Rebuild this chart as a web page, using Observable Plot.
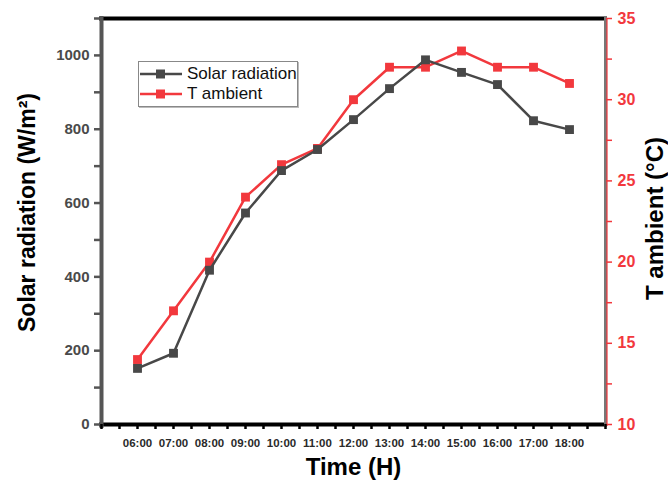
<!DOCTYPE html>
<html>
<head>
<meta charset="utf-8">
<script src="https://cdn.jsdelivr.net/npm/d3@7"></script>
<script src="https://cdn.jsdelivr.net/npm/@observablehq/plot@0.6"></script>
<style>
  html, body { margin: 0; padding: 0; background: white; }
  #wrap { position: relative; width: 668px; height: 489px; font-family: "Liberation Sans", Arial, sans-serif; }
  #legend { position: absolute; left: 138px; top: 61px; width: 158px; height: 44px; border: 1px solid #888; box-shadow: 1px 1px 0 #bbb; background: white; }
  #legend .row { position: absolute; left: 0; height: 20px; display: flex; align-items: center; font-size: 17px; color: #111; }
  #legend svg { margin-right: 4px; }
</style>
</head>
<body>
<div id="wrap"></div>
<script>
// ---- data ----
const hours = ["06:00","07:00","08:00","09:00","10:00","11:00","12:00","13:00","14:00","15:00","16:00","17:00","18:00"];
const hourValues = [6,7,8,9,10,11,12,13,14,15,16,17,18];
const solar = [152,193,418,573,688,745,826,910,988,954,921,823,799];
const tAmbient = [14,17,20,24,26,27,30,32,32,33,32,32,31];
const solarTicks = [0,200,400,600,800,1000];
const tempTicks = [10,15,20,25,30,35];
const seriesNames = ["Solar radiation","T ambient"];

const grayC = "#484848";
const redC = "#f2383d";

// map temperature (10..35) onto the solar axis (0..1100)
const toY = t => (t - 10) * 44;
const fromY = v => v / 44 + 10;

const data = hourValues.map((h, i) => ({h, solar: solar[i], t: tAmbient[i]}));

const font = "Liberation Sans, Arial, sans-serif";

const chart = Plot.plot({
  width: 668,
  height: 489,
  marginLeft: 101,
  marginRight: 63,
  marginTop: 18,
  marginBottom: 65,
  style: {fontFamily: font, background: "white", overflow: "visible"},
  x: {domain: [5, 19]},
  y: {domain: [0, 1100]},
  marks: [
    // series
    Plot.line(data, {x: "h", y: d => toY(d.t), stroke: redC, strokeWidth: 2.5}),
    Plot.dot(data, {x: "h", y: d => toY(d.t), symbol: "square", r: 5, fill: redC, stroke: "none"}),
    Plot.line(data, {x: "h", y: "solar", stroke: grayC, strokeWidth: 2.5}),
    Plot.dot(data, {x: "h", y: "solar", symbol: "square", r: 5, fill: grayC, stroke: "none"}),
    // frame
    Plot.ruleY([1100], {stroke: "#000", strokeWidth: 4, insetLeft: -2, insetRight: -2}),
    Plot.ruleY([0], {stroke: "#000", strokeWidth: 4, insetLeft: -2, insetRight: -2}),
    Plot.ruleX([5], {stroke: "#555", strokeWidth: 4, insetTop: -2, insetBottom: -4}),
    Plot.ruleX([19], {stroke: "#777", strokeWidth: 3, insetTop: -2, insetBottom: -2}),
    Plot.ruleX([19], {stroke: redC, strokeWidth: 1.2, dx: 1.5, insetTop: 0, insetBottom: -2}),
    // left axis
    Plot.axisY({anchor: "left", ticks: d3.range(0, 1101, 100), tickFormat: d => solarTicks.includes(d) ? String(d) : "",
      tickSize: 7, tickPadding: 5, stroke: "#555", strokeWidth: 2.5, fill: "#4a4a4a", fontSize: 15, fontWeight: "bold", label: null}),
    // right axis (temperature)
    Plot.axisY({anchor: "right", ticks: d3.range(10, 35.1, 2.5).map(toY),
      tickFormat: v => { const t = fromY(v); return tempTicks.includes(Math.round(t * 100) / 100) ? String(Math.round(t)) : ""; },
      tickSize: 6, tickPadding: 6, stroke: redC, strokeWidth: 1.5, fill: redC, fontSize: 16, fontWeight: "bold", label: null}),
    // bottom axis
    Plot.axisX({anchor: "bottom", ticks: d3.range(5, 19.01, 0.5),
      tickFormat: d => { const i = hourValues.indexOf(d); return i >= 0 ? hours[i] : ""; },
      tickSize: 5, tickPadding: 9, stroke: "#000", strokeWidth: 2.5, fill: "#2a2a2a", fontSize: 11.5, fontWeight: "bold", label: null}),
    // axis titles
    Plot.text(["Solar radiation (W/m²)"], {frameAnchor: "left", textAnchor: "middle", dx: -74, dy: -9, rotate: -90, fontSize: 23, fontWeight: "bold", fill: "#000"}),
    Plot.text(["T ambient (°C)"], {frameAnchor: "right", textAnchor: "middle", dx: 50, dy: -3, rotate: -90, fontSize: 24, fontWeight: "bold", fill: "#000"}),
    Plot.text(["Time (H)"], {frameAnchor: "bottom", textAnchor: "middle", dy: 50, fontSize: 24, fontWeight: "bold", fill: "#000"})
  ]
});

const wrap = document.getElementById("wrap");
wrap.appendChild(chart);

// legend
const legend = document.createElement("div");
legend.id = "legend";
const colors = [grayC, redC];
seriesNames.forEach((name, i) => {
  const row = document.createElement("div");
  row.className = "row";
  row.style.top = (2 + i * 20) + "px";
  row.innerHTML = `<svg width="44" height="12"><line x1="1" x2="43" y1="6" y2="6" stroke="${colors[i]}" stroke-width="2.5"/><rect x="17" y="1.5" width="9" height="9" fill="${colors[i]}"/></svg><span>${name}</span>`;
  legend.appendChild(row);
});
wrap.appendChild(legend);
</script>
</body>
</html>
